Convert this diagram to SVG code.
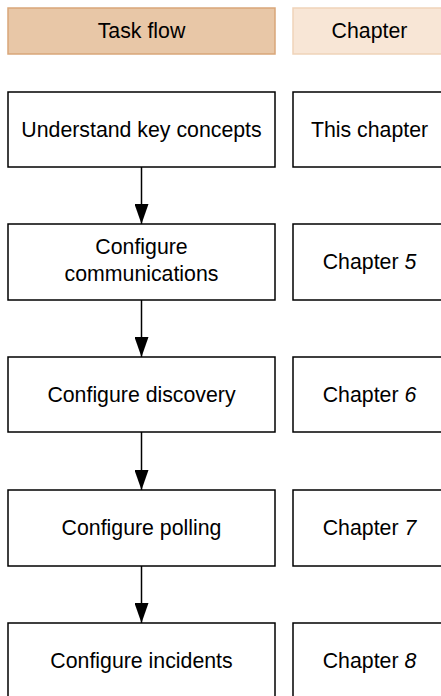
<svg xmlns="http://www.w3.org/2000/svg" width="441" height="696" viewBox="0 0 441 696">
  <style>
    .hdr-task { fill: #e8c7a7; stroke: #d9a679; stroke-width: 1.5; }
    .hdr-chap { fill: #f8e6d6; stroke: #efd3b9; stroke-width: 1.5; }
    .box { fill: #ffffff; stroke: #000000; stroke-width: 1.5; }
    .lbl { font-family: "Liberation Sans", Arial, sans-serif; font-size: 21.3px; fill: #000000; text-anchor: middle; }
    .num { font-style: italic; }
    .conn { stroke: #000000; stroke-width: 1.5; fill: none; marker-end: url(#arrow); }
  </style>
  <defs>
    <!-- filled triangular arrowhead, tip at the end of the line -->
    <marker id="arrow" viewBox="0 0 20 14" refX="20" refY="7" markerWidth="20" markerHeight="14" markerUnits="userSpaceOnUse" orient="auto">
      <path d="M0,0 L20,7 L0,14 Z" fill="#000000"/>
    </marker>
  </defs>

  <!-- column headers -->
  <g id="header-task">
    <rect class="hdr-task" x="8" y="8" width="267" height="46"/>
    <text class="lbl" x="141.5" y="38">Task flow</text>
  </g>
  <g id="header-chapter">
    <rect class="hdr-chap" x="293" y="8" width="153" height="46"/>
    <text class="lbl" x="369.5" y="38">Chapter</text>
  </g>

  <!-- task flow steps -->
  <g id="task-concepts">
    <rect class="box" x="8" y="92" width="267" height="75"/>
    <text class="lbl" x="141.5" y="137">Understand key concepts</text>
  </g>
  <g id="task-communications">
    <rect class="box" x="8" y="224" width="267" height="76"/>
    <text class="lbl" x="141.5" y="254">Configure</text>
    <text class="lbl" x="141.5" y="281">communications</text>
  </g>
  <g id="task-discovery">
    <rect class="box" x="8" y="357" width="267" height="75"/>
    <text class="lbl" x="141.5" y="402">Configure discovery</text>
  </g>
  <g id="task-polling">
    <rect class="box" x="8" y="490" width="267" height="76"/>
    <text class="lbl" x="141.5" y="535">Configure polling</text>
  </g>
  <g id="task-incidents">
    <rect class="box" x="8" y="623" width="267" height="76"/>
    <text class="lbl" x="141.5" y="668">Configure incidents</text>
  </g>

  <!-- chapter references -->
  <g id="chapter-this">
    <rect class="box" x="293" y="92" width="153" height="75"/>
    <text class="lbl" x="369.5" y="137">This chapter</text>
  </g>
  <g id="chapter-5">
    <rect class="box" x="293" y="224" width="153" height="76"/>
    <text class="lbl" x="369.5" y="269">Chapter <tspan class="num">5</tspan></text>
  </g>
  <g id="chapter-6">
    <rect class="box" x="293" y="357" width="153" height="75"/>
    <text class="lbl" x="369.5" y="402">Chapter <tspan class="num">6</tspan></text>
  </g>
  <g id="chapter-7">
    <rect class="box" x="293" y="490" width="153" height="76"/>
    <text class="lbl" x="369.5" y="535">Chapter <tspan class="num">7</tspan></text>
  </g>
  <g id="chapter-8">
    <rect class="box" x="293" y="623" width="153" height="76"/>
    <text class="lbl" x="369.5" y="668">Chapter <tspan class="num">8</tspan></text>
  </g>

  <!-- connectors between steps -->
  <g id="connectors">
    <line class="conn" x1="141.5" y1="167" x2="141.5" y2="224"/>
    <line class="conn" x1="141.5" y1="300" x2="141.5" y2="357"/>
    <line class="conn" x1="141.5" y1="432" x2="141.5" y2="490"/>
    <line class="conn" x1="141.5" y1="566" x2="141.5" y2="623"/>
  </g>
</svg>
